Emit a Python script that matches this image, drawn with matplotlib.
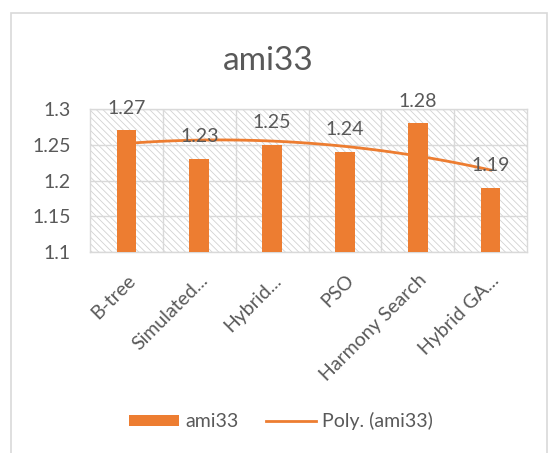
import numpy as np
import matplotlib
matplotlib.use('Agg')
import matplotlib.pyplot as plt
from matplotlib.patches import Rectangle, Patch
from matplotlib.lines import Line2D

categories = ['B-tree', 'Simulated...', 'Hybrid...', 'PSO', 'Harmony Search', 'Hybrid GA...']
values = [1.27, 1.23, 1.25, 1.24, 1.28, 1.19]
y_ticks = [1.1, 1.15, 1.2, 1.25, 1.3]
y_tick_labels = ['1.1', '1.15', '1.2', '1.25', '1.3']

orange = '#ED7D31'
grey_text = '#595959'
grid_col = '#d9d9d9'
fs = 14

plt.rcParams['font.family'] = ['Lato', 'DejaVu Sans']
plt.rcParams['hatch.linewidth'] = 0.6
plt.rcParams['hatch.color'] = '#d2d2d2'

fig = plt.figure(figsize=(5.5, 4.53), dpi=100)

# outer chart border
fig.add_artist(Rectangle((11 / 550, -0.05), 536 / 550, 1 - 13 / 453 + 0.05,
                         transform=fig.transFigure, fill=False,
                         edgecolor=grid_col, lw=1.2))

ax = fig.add_axes([90 / 550, 1 - 252 / 453, 437 / 550, 143 / 453])
x = np.arange(len(categories))

# hatched plot area
ax.add_patch(Rectangle((0, 0), 1, 1, transform=ax.transAxes, facecolor='white',
                       edgecolor='#d2d2d2', hatch='\\' * 5, lw=0, zorder=0))

ax.set_xlim(-0.5, len(categories) - 0.5)
ax.set_ylim(1.1, 1.3)

ax.set_yticks(y_ticks)
ax.set_yticklabels(y_tick_labels)
ax.set_xticks(x)
ax.set_xticklabels(categories, rotation=45, ha='right', rotation_mode='anchor')
ax.set_xticks(x[:-1] + 0.5, minor=True)
ax.tick_params(axis='both', length=0, colors=grey_text, labelsize=fs)
ax.tick_params(axis='x', pad=14)
ax.tick_params(axis='y', pad=14)
ax.tick_params(which='minor', length=0)

ax.grid(axis='y', which='major', color=grid_col, lw=1, zorder=1)
ax.grid(axis='x', which='minor', color=grid_col, lw=1, zorder=1)
ax.set_axisbelow(True)
for s in ax.spines.values():
    s.set_color(grid_col)
    s.set_linewidth(1)

# polynomial (order 2) trendline
coef = np.polyfit(x, values, 2)
xs = np.linspace(0, len(categories) - 1, 100)
ax.plot(xs, np.polyval(coef, xs), color=orange, lw=2, zorder=2)

ax.bar(x, values, width=0.27, bottom=0, color=orange, zorder=3)

for xi, v in zip(x, values):
    ax.annotate(f'{v:.2f}', (xi, v), xytext=(0, 16), textcoords='offset points',
                ha='center', va='center', fontsize=fs, color=grey_text, zorder=4)

fig.text(268 / 550, 1 - 61 / 453, 'ami33', ha='center', va='center',
         fontsize=24, color=grey_text)

handles = [Patch(facecolor=orange, edgecolor='none'),
           Line2D([0], [0], color=orange, lw=2)]
fig.legend(handles, ['ami33', 'Poly. (ami33)'], loc='center',
           bbox_to_anchor=(281 / 550, 1 - 421 / 453), ncol=2, frameon=False,
           fontsize=fs, labelcolor=grey_text, handlelength=2.6,
           handleheight=0.5, handletextpad=0.3, columnspacing=1.4)

fig.savefig('out.png', dpi=100)
